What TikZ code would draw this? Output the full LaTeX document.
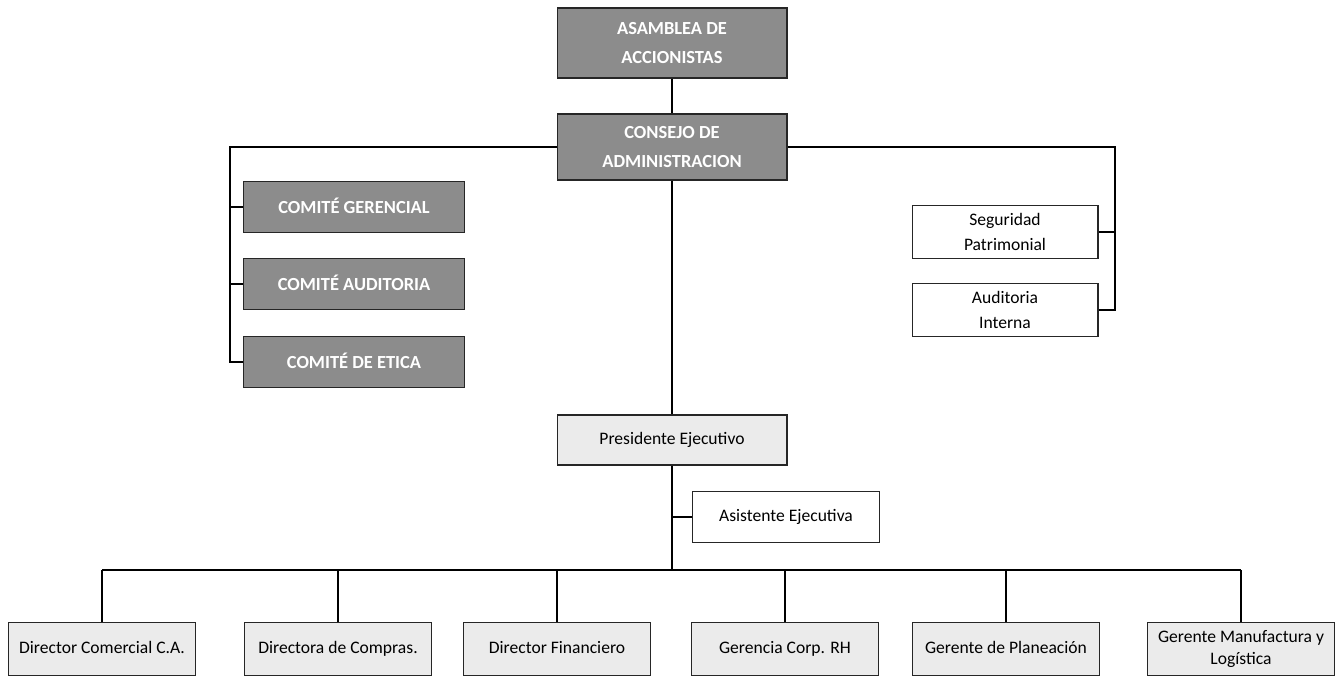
\documentclass[tikz,border=0pt]{standalone}
\usepackage{fontspec}
\setmainfont{Carlito}
\usetikzlibrary{positioning}
\definecolor{cajaoscura}{HTML}{8C8C8C}
\definecolor{cajaclara}{HTML}{EBEBEB}

\begin{document}
\begin{tikzpicture}[x=0.02cm, y=-0.02cm, line width=0.6pt,
  junta/.style={draw=black!85, fill=cajaoscura, text=white, align=center,
    font=\fontsize{10.5}{16}\selectfont\bfseries, inner sep=2pt},
  comite/.style={junta, minimum width=4.42cm, minimum height=1.02cm,
    text height=1.8ex, text depth=0.3ex},
  apoyo/.style={draw=black!85, fill=white, align=center,
    font=\fontsize{10}{14}\selectfont, minimum width=3.72cm, minimum height=1.06cm, inner sep=2pt},
  direc/.style={draw=black!85, fill=cajaclara, align=center,
    font=\fontsize{10}{12.5}\selectfont, minimum width=3.74cm, minimum height=1.06cm, inner sep=1pt},
  dirlinea/.style={direc, text height=1.6ex, text depth=0.45ex}]
\useasboundingbox (0,0) rectangle (1341,677);

% cuerpo de gobierno
\node[junta, minimum width=4.6cm, minimum height=1.4cm] (asamblea) at (672,43) {ASAMBLEA DE\\ACCIONISTAS};
\node[junta, minimum width=4.6cm, minimum height=1.32cm] (consejo) at (672,147) {CONSEJO DE\\ADMINISTRACION};
\node[comite] (gerencial) at (354,207) {COMITÉ GERENCIAL};
\node[comite] (auditoria) at (354,284) {COMITÉ AUDITORIA};
\node[comite] (etica) at (354,362) {COMITÉ DE ETICA};
\node[apoyo] (seguridad) at (1005,232) {Seguridad\\Patrimonial};
\node[apoyo] (interna) at (1005,310) {Auditoria\\Interna};

% presidencia
\node[dirlinea, minimum width=4.6cm, minimum height=1.0cm] (presidente) at (672,440) {Presidente Ejecutivo};
\node[apoyo, minimum width=3.74cm, minimum height=1.02cm, text height=1.6ex, text depth=0.45ex] (asistente) at (786,517) {Asistente Ejecutiva};

% direcciones
\node[dirlinea] (comercial) at (102,649) {Director Comercial C.A.};
\node[dirlinea] (compras) at (338,649) {Directora de Compras.};
\node[dirlinea] (financiero) at (557,649) {Director Financiero};
\node[dirlinea] (rh) at (785,649) {Gerencia Corp. RH};
\node[dirlinea] (planeacion) at (1006,649) {Gerente de Planeación};
\node[direc] (manufactura) at (1241,649) {Gerente Manufactura y\\Logística};

\coordinate (lbus) at (230,147);
\coordinate (rbus) at (1115,147);
\coordinate (mbus) at (672,570);

\draw (asamblea) -- (consejo);
\draw (consejo.west) -- (lbus) -- (lbus |- etica.west) -- (etica.west);
\draw (lbus |- gerencial.west) -- (gerencial.west);
\draw (lbus |- auditoria.west) -- (auditoria.west);
\draw (consejo.east) -- (rbus) -- (rbus |- interna.east) -- (interna.east);
\draw (rbus |- seguridad.east) -- (seguridad.east);
\draw (consejo) -- (presidente);
\draw (presidente) -- (mbus);
\draw (presidente.south |- asistente.west) -- (asistente.west);
\draw (comercial.north |- mbus) -- (manufactura.north |- mbus);
\foreach \d in {comercial,compras,financiero,rh,planeacion,manufactura}
  \draw (\d.north |- mbus) -- (\d.north);
\end{tikzpicture}
\end{document}
